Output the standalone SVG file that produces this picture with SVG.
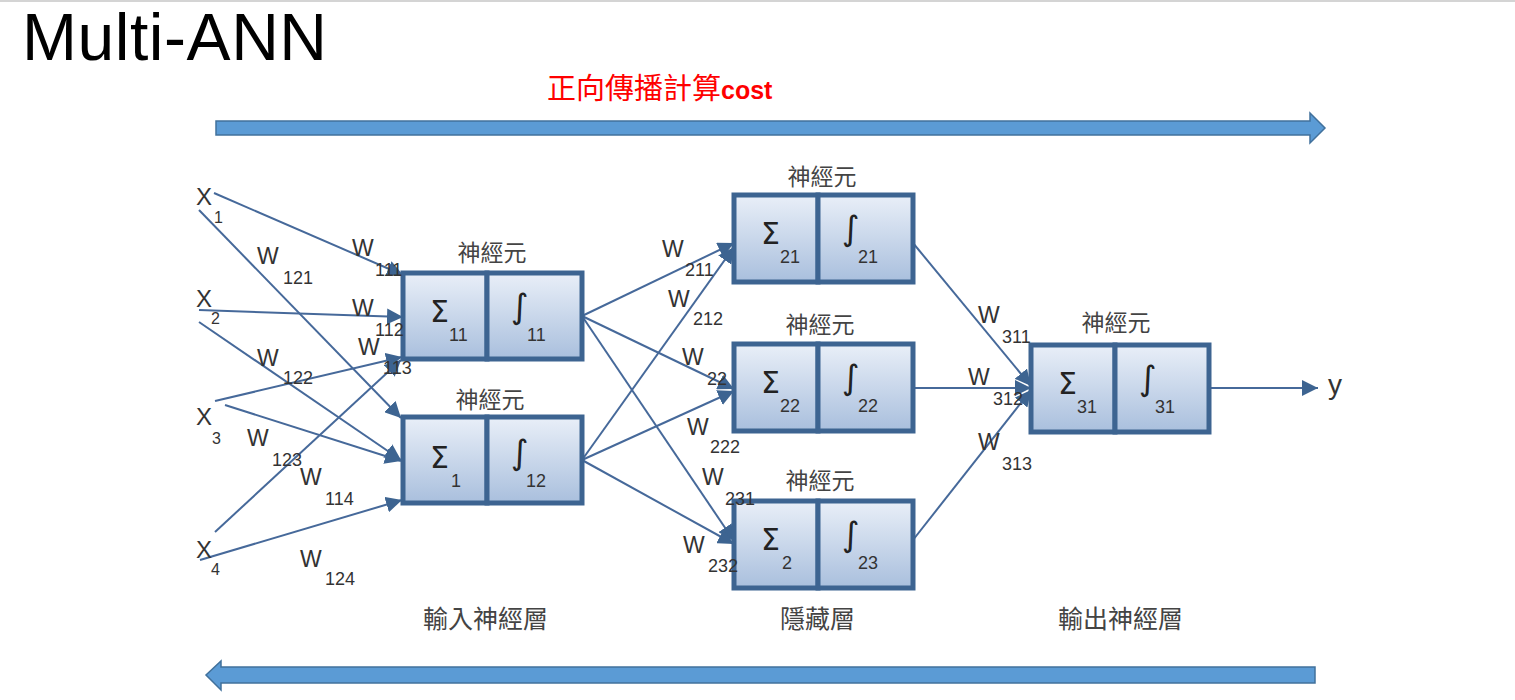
<svg xmlns="http://www.w3.org/2000/svg" width="1515" height="700" viewBox="0 0 1515 700">
<defs>
<linearGradient id="cellFill" x1="0" y1="0" x2="0" y2="1">
<stop offset="0" stop-color="#e9eff8"/>
<stop offset="1" stop-color="#a9bfdd"/>
</linearGradient>
<marker id="arr" markerUnits="userSpaceOnUse" markerWidth="18" markerHeight="16" refX="16" refY="8" orient="auto">
<path d="M0,0 L16,8 L0,16 z" fill="#3d6491"/>
</marker>
<style>
.cell{fill:url(#cellFill);stroke:#3d6491;stroke-width:5}
.con{stroke:#46699a;stroke-width:2;fill:none;marker-end:url(#arr)}
.lbl{font-family:"Liberation Sans",Arial,sans-serif;fill:#333333}
.w{font-size:23px}
.s{font-size:18px}
.cn{font-family:"Liberation Sans","Noto Sans CJK TC",sans-serif;font-size:23px;fill:#444444}
.sig{font-family:"DejaVu Sans","Liberation Sans",sans-serif;font-size:30px;fill:#222222}
.int{font-family:"DejaVu Sans","Liberation Sans",sans-serif;font-size:34px;fill:#222222}
.big{fill:#5b9bd5;stroke:#41719c;stroke-width:1.5}
</style>
</defs>
<rect width="1515" height="700" fill="#ffffff"/>
<line x1="0" y1="1" x2="1515" y2="1" stroke="#d4d4d4" stroke-width="2"/>

<text x="22" y="60" font-family="Liberation Sans,Arial,sans-serif" font-size="66" fill="#000000" textLength="305" lengthAdjust="spacing">Multi-ANN</text>
<text x="547" y="99" fill="#ff0000"><tspan font-family="Liberation Serif,Noto Sans CJK TC,serif" font-size="29">正向傳播計算</tspan><tspan font-family="Liberation Sans,Arial,sans-serif" font-size="25" font-weight="bold">cost</tspan></text>

<g id="forward-arrow"><polygon class="big" points="216,121 1310,121 1310,113 1325,128 1310,143 1310,135 216,135"/></g>
<g id="backward-arrow"><polygon class="big" points="1315,667 221,667 221,661 206,675 221,690 221,683 1315,683"/></g>

<g id="connectors">
<line class="con" x1="214" y1="193" x2="403" y2="275"/>
<line class="con" x1="199" y1="210" x2="401" y2="418"/>
<line class="con" x1="199" y1="310" x2="403" y2="317"/>
<line class="con" x1="199" y1="322" x2="401" y2="460"/>
<line class="con" x1="215" y1="401" x2="402" y2="357"/>
<line class="con" x1="225" y1="405" x2="401" y2="461"/>
<line class="con" x1="215" y1="532" x2="401" y2="360"/>
<line class="con" x1="200" y1="560" x2="402" y2="500"/>
<line class="con" x1="582" y1="316" x2="734" y2="243"/>
<line class="con" x1="582" y1="316" x2="734" y2="389"/>
<line class="con" x1="582" y1="316" x2="734" y2="541"/>
<line class="con" x1="582" y1="460" x2="734" y2="247"/>
<line class="con" x1="582" y1="460" x2="734" y2="391"/>
<line class="con" x1="582" y1="460" x2="734" y2="544"/>
<line class="con" x1="913" y1="243" x2="1031" y2="386"/>
<line class="con" x1="913" y1="388" x2="1031" y2="388"/>
<line class="con" x1="913" y1="540" x2="1031" y2="390"/>
<line class="con" x1="1209" y1="388" x2="1318" y2="388"/>
</g>

<g id="n11">
<rect class="cell" x="403" y="273" width="84" height="86"/>
<rect class="cell" x="487" y="273" width="95" height="86"/>
<text class="cn" x="492" y="261" text-anchor="middle">神經元</text>
<text class="sig" x="430" y="322">Σ</text><text class="lbl s" x="449" y="341">11</text>
<text class="int" x="511" y="318">∫</text><text class="lbl s" x="527" y="341">11</text>
</g>
<g id="n12">
<rect class="cell" x="403" y="417" width="84" height="86"/>
<rect class="cell" x="487" y="417" width="95" height="86"/>
<text class="cn" x="490" y="408" text-anchor="middle">神經元</text>
<text class="sig" x="430" y="468">Σ</text><text class="lbl s" x="451" y="487">1</text>
<text class="int" x="511" y="464">∫</text><text class="lbl s" x="526" y="487">12</text>
</g>
<g id="n21">
<rect class="cell" x="734" y="195" width="84" height="87"/>
<rect class="cell" x="818" y="195" width="95" height="87"/>
<text class="cn" x="822" y="185" text-anchor="middle">神經元</text>
<text class="sig" x="761" y="244">Σ</text><text class="lbl s" x="780" y="263">21</text>
<text class="int" x="842" y="240">∫</text><text class="lbl s" x="858" y="263">21</text>
</g>
<g id="n22">
<rect class="cell" x="734" y="344" width="84" height="87"/>
<rect class="cell" x="818" y="344" width="95" height="87"/>
<text class="cn" x="820" y="333" text-anchor="middle">神經元</text>
<text class="sig" x="761" y="393">Σ</text><text class="lbl s" x="780" y="412">22</text>
<text class="int" x="842" y="389">∫</text><text class="lbl s" x="858" y="412">22</text>
</g>
<g id="n23">
<rect class="cell" x="734" y="501" width="84" height="87"/>
<rect class="cell" x="818" y="501" width="95" height="87"/>
<text class="cn" x="820" y="489" text-anchor="middle">神經元</text>
<text class="sig" x="761" y="550">Σ</text><text class="lbl s" x="782" y="569">2</text>
<text class="int" x="842" y="546">∫</text><text class="lbl s" x="858" y="569">23</text>
</g>
<g id="n31">
<rect class="cell" x="1031" y="345" width="84" height="87"/>
<rect class="cell" x="1115" y="345" width="94" height="87"/>
<text class="cn" x="1116" y="331" text-anchor="middle">神經元</text>
<text class="sig" x="1058" y="394">Σ</text><text class="lbl s" x="1077" y="413">31</text>
<text class="int" x="1139" y="390">∫</text><text class="lbl s" x="1155" y="413">31</text>
</g>

<g id="inputs" class="lbl">
<text x="196" y="205" font-size="24">X</text><text x="214" y="223" font-size="16">1</text>
<text x="196" y="307" font-size="24">X</text><text x="211" y="324" font-size="16">2</text>
<text x="196" y="425" font-size="24">X</text><text x="212" y="444" font-size="16">3</text>
<text x="196" y="558" font-size="24">X</text><text x="211" y="575" font-size="16">4</text>
</g>
<g id="output-y"><text class="lbl" x="1328" y="394" font-size="28">y</text></g>

<g id="weights" class="lbl">
<text class="w" x="257" y="264">W</text><text class="s" x="283" y="284">121</text>
<text class="w" x="352" y="256">W</text><text class="s" x="375" y="276">111</text>
<text class="w" x="352" y="316">W</text><text class="s" x="375" y="336">112</text>
<text class="w" x="358" y="355">W</text><text class="s" x="383" y="374">113</text>
<text class="w" x="257" y="366">W</text><text class="s" x="283" y="384">122</text>
<text class="w" x="247" y="446">W</text><text class="s" x="272" y="466">123</text>
<text class="w" x="300" y="485">W</text><text class="s" x="325" y="505">114</text>
<text class="w" x="300" y="567">W</text><text class="s" x="325" y="585">124</text>
<text class="w" x="662" y="257">W</text><text class="s" x="685" y="276">211</text>
<text class="w" x="668" y="307">W</text><text class="s" x="693" y="325">212</text>
<text class="w" x="682" y="365">W</text><text class="s" x="707" y="385">22</text>
<text class="w" x="687" y="435">W</text><text class="s" x="710" y="453">222</text>
<text class="w" x="702" y="485">W</text><text class="s" x="725" y="505">231</text>
<text class="w" x="683" y="553">W</text><text class="s" x="708" y="572">232</text>
<text class="w" x="978" y="323">W</text><text class="s" x="1002" y="343">311</text>
<text class="w" x="968" y="385">W</text><text class="s" x="993" y="405">312</text>
<text class="w" x="978" y="450">W</text><text class="s" x="1002" y="470">313</text>
</g>

<g id="layer-labels" class="cn">
<text x="423" y="628" font-size="25">輸入神經層</text>
<text x="780" y="628" font-size="25">隱藏層</text>
<text x="1058" y="628" font-size="25">輸出神經層</text>
</g>
</svg>
